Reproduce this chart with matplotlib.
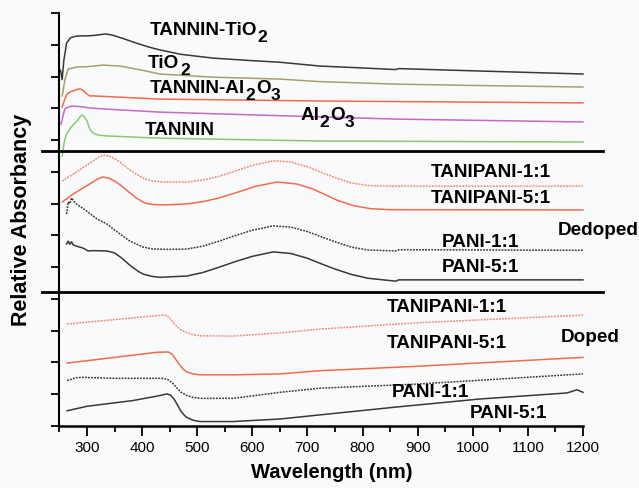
import matplotlib
matplotlib.use("Agg")
import matplotlib.pyplot as plt
from matplotlib.ticker import MultipleLocator
from matplotlib.transforms import IdentityTransform

plt.rcParams['font.family'] = ['Liberation Sans', 'DejaVu Sans']

# ---- spectra, offset stacked (relative absorbancy units) ----
# top panel: tannin / oxides
tio2_tan_w = [252, 255, 258, 263, 270, 280, 290, 300, 310, 320, 333, 345, 365, 390, 414, 432, 470, 529, 590, 650, 723, 800, 860, 866, 1000, 1100, 1200]
tio2_tan_a = [11.2, 10.9, 11.5, 12.05, 12.22, 12.27, 12.28, 12.28, 12.29, 12.31, 12.34, 12.31, 12.2, 12.05, 11.92, 11.84, 11.7, 11.58, 11.51, 11.45, 11.33, 11.27, 11.22, 11.25, 11.18, 11.13, 11.08]

tio2_w = [255, 260, 266, 282, 300, 329, 360, 400, 432, 529, 650, 723, 863, 1000, 1200]
tio2_a = [10.39, 10.9, 11.24, 11.30, 11.31, 11.36, 11.33, 11.2, 11.08, 10.98, 10.92, 10.84, 10.76, 10.72, 10.67]

al2o3_tan_w = [255, 260, 264, 270, 275, 281, 287, 292, 296, 300, 305, 311, 336, 432, 723, 1200]
al2o3_tan_a = [10.04, 10.3, 10.45, 10.52, 10.55, 10.59, 10.61, 10.58, 10.51, 10.45, 10.39, 10.39, 10.37, 10.29, 10.23, 10.17]

al2o3_w = [253, 257, 260, 266, 273, 290, 305, 360, 432, 723, 863, 1200]
al2o3_a = [9.5, 9.8, 9.98, 10.04, 10.07, 10.05, 10.01, 9.95, 9.88, 9.73, 9.66, 9.57]

tannin_w = [255, 258, 260, 264, 269, 275, 282, 287, 291, 295, 300, 305, 310, 314, 320, 336, 432, 723, 1200]
tannin_a = [8.5, 8.85, 9.03, 9.22, 9.35, 9.48, 9.6, 9.72, 9.79, 9.74, 9.6, 9.35, 9.24, 9.19, 9.16, 9.13, 9.06, 8.97, 8.94]

# middle panel: dedoped
ded_tp11_w = [255, 275, 305, 320, 329, 340, 350, 362, 375, 390, 405, 420, 440, 481, 510, 540, 570, 600, 638, 670, 700, 723, 750, 780, 810, 850, 1200]
ded_tp11_a = [7.71, 7.93, 8.27, 8.45, 8.53, 8.5, 8.42, 8.28, 8.1, 7.92, 7.78, 7.71, 7.68, 7.68, 7.74, 7.86, 8.03, 8.2, 8.35, 8.31, 8.16, 8.0, 7.82, 7.65, 7.57, 7.55, 7.55]

ded_tp51_w = [255, 275, 305, 320, 329, 340, 350, 362, 375, 390, 405, 420, 440, 481, 510, 540, 570, 605, 645, 680, 710, 730, 755, 785, 815, 850, 1200]
ded_tp51_a = [7.05, 7.3, 7.62, 7.78, 7.84, 7.8, 7.71, 7.57, 7.38, 7.17, 7.02, 6.97, 6.96, 6.99, 7.06, 7.18, 7.34, 7.54, 7.68, 7.62, 7.46, 7.3, 7.1, 6.93, 6.84, 6.81, 6.80]

ded_p11_w = [263, 266, 269, 272, 276, 281, 290, 299, 318, 336, 360, 378, 402, 420, 450, 481, 510, 540, 570, 600, 638, 670, 700, 723, 750, 780, 810, 860, 866, 1200]
ded_p11_a = [6.67, 7.05, 7.0, 7.18, 7.08, 6.99, 6.88, 6.77, 6.52, 6.36, 6.04, 5.82, 5.63, 5.57, 5.56, 5.57, 5.66, 5.82, 6.0, 6.16, 6.30, 6.26, 6.12, 5.97, 5.8, 5.63, 5.54, 5.51, 5.55, 5.53]

ded_p51_w = [263, 266, 269, 272, 275, 283, 293, 302, 311, 336, 350, 362, 378, 392, 402, 418, 432, 481, 510, 540, 570, 600, 638, 670, 700, 723, 750, 780, 810, 860, 866, 1200]
ded_p51_a = [5.73, 5.82, 5.72, 5.8, 5.70, 5.65, 5.6, 5.51, 5.52, 5.51, 5.45, 5.3, 5.06, 4.88, 4.78, 4.71, 4.68, 4.72, 4.83, 5.0, 5.18, 5.34, 5.48, 5.43, 5.28, 5.12, 4.94, 4.77, 4.65, 4.56, 4.60, 4.60]

# bottom panel: doped
dop_tp11_w = [264, 350, 438, 444, 450, 456, 463, 470, 481, 493, 505, 565, 650, 723, 900, 1200]
dop_tp11_a = [3.21, 3.35, 3.49, 3.48, 3.41, 3.27, 3.13, 3.03, 2.94, 2.87, 2.84, 2.83, 2.93, 3.05, 3.25, 3.49]

dop_tp51_w = [264, 350, 427, 448, 455, 461, 468, 474, 481, 493, 505, 565, 650, 723, 900, 1200]
dop_tp51_a = [1.98, 2.16, 2.32, 2.33, 2.25, 2.1, 1.93, 1.8, 1.7, 1.64, 1.61, 1.61, 1.64, 1.74, 1.88, 2.16]

dop_p11_w = [264, 280, 293, 354, 438, 448, 456, 463, 470, 481, 493, 505, 565, 650, 723, 900, 1200]
dop_p11_a = [1.43, 1.52, 1.53, 1.50, 1.50, 1.45, 1.34, 1.2, 1.07, 0.96, 0.9, 0.87, 0.87, 1.06, 1.19, 1.32, 1.64]

dop_p51_w = [264, 300, 383, 430, 445, 452, 458, 464, 470, 476, 481, 493, 505, 565, 650, 723, 863, 1013, 1171, 1182, 1189, 1200]
dop_p51_a = [0.48, 0.62, 0.80, 0.95, 1.01, 0.97, 0.85, 0.67, 0.48, 0.35, 0.27, 0.18, 0.14, 0.14, 0.22, 0.35, 0.6, 0.85, 1.04, 1.1, 1.14, 1.06]

separators = [8.66, 4.22]
x_ticks = [300, 400, 500, 600, 700, 800, 900, 1000, 1100, 1200]

# label text split into (piece, is_subscript)
labels = [
    (414, 12.34, [('TANNIN-TiO', False), ('2', True)]),
    (411, 11.29, [('TiO', False), ('2', True)]),
    (414, 10.50, [('TANNIN-Al', False), ('2', True), ('O', False), ('3', True)]),
    (405, 9.19, [('TANNIN', False)]),
    (687, 9.66, [('Al', False), ('2', True), ('O', False), ('3', True)]),
    (923, 7.88, [('TANIPANI-1:1', False)]),
    (923, 7.04, [('TANIPANI-5:1', False)]),
    (1155, 6.04, [('Dedoped', False)]),
    (944, 5.68, [('PANI-1:1', False)]),
    (944, 4.89, [('PANI-5:1', False)]),
    (844, 3.63, [('TANIPANI-1:1', False)]),
    (1159, 2.69, [('Doped', False)]),
    (844, 2.48, [('TANIPANI-5:1', False)]),
    (853, 0.95, [('PANI-1:1', False)]),
    (995, 0.27, [('PANI-5:1', False)]),
]

BLACK = '#383838'
ORANGE = '#f26b4b'
ORANGE_LT = '#f4876b'
DOT = (0, (1.2, 0.8))

fig = plt.figure(figsize=(6.39, 4.89), dpi=100)
fig.patch.set_facecolor('#f9fafc')
W, H = 639, 489
ax = fig.add_axes([59.4 / W, (H - 427) / H, 545.6 / W, 413 / H])
ax.set_facecolor('#f9fafc')

lw = 1.1
ax.plot(tio2_tan_w, tio2_tan_a, color=BLACK, lw=lw)
ax.plot(tio2_w, tio2_a, color='#a89f6e', lw=lw)
ax.plot(al2o3_tan_w, al2o3_tan_a, color=ORANGE, lw=lw)
ax.plot(al2o3_w, al2o3_a, color='#c767c7', lw=lw)
ax.plot(tannin_w, tannin_a, color='#8cc870', lw=lw)

ax.plot(ded_tp11_w, ded_tp11_a, color=ORANGE_LT, lw=lw, ls=DOT)
ax.plot(ded_tp51_w, ded_tp51_a, color=ORANGE, lw=lw)
ax.plot(ded_p11_w, ded_p11_a, color=BLACK, lw=lw, ls=DOT)
ax.plot(ded_p51_w, ded_p51_a, color=BLACK, lw=lw)

ax.plot(dop_tp11_w, dop_tp11_a, color=ORANGE_LT, lw=lw, ls=DOT)
ax.plot(dop_tp51_w, dop_tp51_a, color=ORANGE, lw=lw)
ax.plot(dop_p11_w, dop_p11_a, color=BLACK, lw=lw, ls=DOT)
ax.plot(dop_p51_w, dop_p51_a, color=BLACK, lw=lw)

for s in separators:
    ax.axhline(s, xmin=-0.032, xmax=0.996, color='black', lw=2.0, clip_on=False)

ax.set_xlim(250, 1240)
ax.set_ylim(0, 13)
ax.spines['top'].set_visible(False)
ax.spines['right'].set_visible(False)
ax.spines['bottom'].set_bounds(250, 1200)
ax.spines['bottom'].set_linewidth(1.8)
ax.spines['left'].set_linewidth(1.5)

ax.set_xticks(x_ticks)
ax.xaxis.set_minor_locator(MultipleLocator(50))
ax.set_yticks(range(14))
ax.set_yticklabels([])
ax.tick_params(axis='x', which='major', length=7, width=1.3, labelsize=11, pad=3)
ax.tick_params(axis='x', which='minor', length=4, width=1.3)
ax.tick_params(axis='y', which='major', length=6, width=1.3)

ax.set_xlabel('Wavelength (nm)', fontsize=14.5, fontweight='bold', labelpad=6)
fig.text(22 / W, 1 - 220 / H, 'Relative Absorbancy', rotation=90, fontsize=15.5,
         fontweight='bold', ha='center', va='center')

# Origin-style labels: big subscripts dropped well below the baseline
fs = 13.6
renderer = fig.canvas.get_renderer()
for x, y, parts in labels:
    px, py = ax.transData.transform((x, y))
    for piece, sub in parts:
        t = fig.text(px, py - 7 if sub else py, piece, transform=IdentityTransform(),
                     fontsize=fs * 0.92 if sub else fs, fontweight='bold',
                     ha='left', va='baseline')
        px = t.get_window_extent(renderer).x1 + 0.5

fig.savefig('out.png', dpi=100, facecolor=fig.get_facecolor())
